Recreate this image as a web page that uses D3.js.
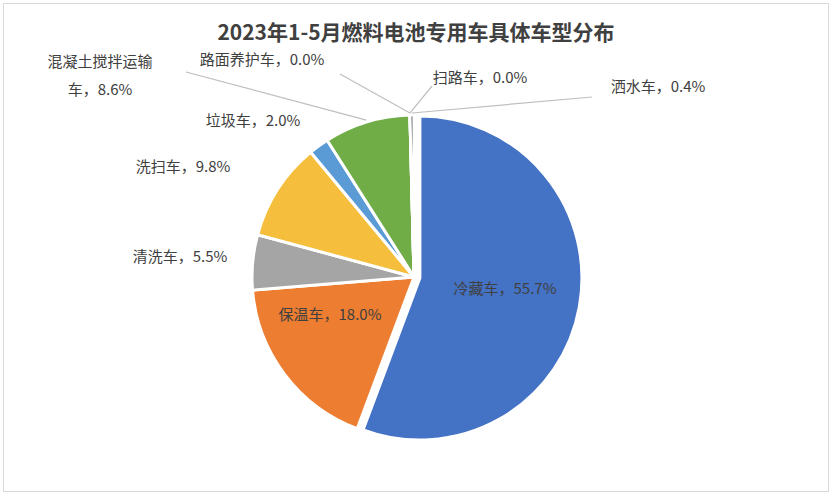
<!DOCTYPE html>
<html><head><meta charset="utf-8">
<script src="https://cdn.jsdelivr.net/npm/d3@7"></script>
<style>body{margin:0;background:#fff}svg{font-family:"Noto Sans CJK SC",sans-serif}</style>
</head><body><svg id="c" width="832" height="498"></svg>
<script>
const categories = ["冷藏车","保温车","清洗车","洗扫车","垃圾车","混凝土搅拌运输车","路面养护车","扫路车","洒水车"];
const values = [55.7,18.0,5.5,9.8,2.0,8.6,0.0,0.0,0.4];
const colors = ["#4472C4","#ED7D31","#A5A5A5","#F5BF3D","#5B9BD5","#70AD47","#264478","#9E480E","#636363"];
// label anchor [x,y,lineEndX,lineEndY or null]
const labelPos = [[505,294],[330,320],[180,262],[183,172],[253,126],[100,75],[262,65],[480,83],[658,92]];
const leaders = {5:[186,72],6:[340,74],7:[432,86],8:[592,97]};

const svg = d3.select("#c");
svg.append("rect").attr("x",3.5).attr("y",3.5).attr("width",825).attr("height",488).attr("fill","#fff").attr("stroke","#d9d9d9");
svg.append("text").attr("x",416).attr("y",40).attr("text-anchor","middle").attr("font-size",21).attr("font-weight","bold").attr("fill","#404040").text("2023年1-5月燃料电池专用车具体车型分布");

const cx=414, cy=277, r=162;
const pie = d3.pie().sort(null).value(d=>d)(values);
const arc = d3.arc().innerRadius(0).outerRadius(r);
const g = svg.append("g").attr("transform",`translate(${cx},${cy})`);
g.selectAll("path").data(pie).join("path")
  .attr("d",arc).attr("fill",(d,i)=>colors[i]).attr("stroke","#fff").attr("stroke-width",3)
  .attr("transform",(d,i)=>{ if(i!==0) return null; const a=(d.startAngle+d.endAngle)/2; return `translate(${Math.sin(a)*6},${-Math.cos(a)*6})`;});

const edge = d3.arc().innerRadius(r+2).outerRadius(r+2);
Object.entries(leaders).forEach(([i,p])=>{
  const c = edge.centroid(pie[i]);
  svg.append("line").attr("x1",p[0]).attr("y1",p[1]).attr("x2",cx+c[0]).attr("y2",cy+c[1]).attr("stroke","#bfbfbf").attr("stroke-width",1.2);
});

const fmt = v=>"，"+v.toFixed(1)+"%";
categories.forEach((c,i)=>{
  const [x,y]=labelPos[i];
  const t = svg.append("text").attr("x",x).attr("y",y).attr("text-anchor","middle").attr("font-size",15).attr("fill","#404040");
  if(i===5){
    t.append("tspan").attr("x",x).attr("dy",-8).text("混凝土搅拌运输");
    t.append("tspan").attr("x",x).attr("dy",28).text("车"+fmt(values[i]));
  } else t.text(c+fmt(values[i]));
});
</script></body></html>
